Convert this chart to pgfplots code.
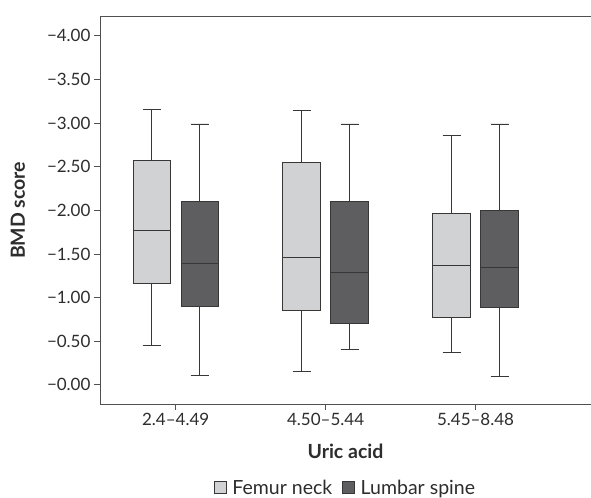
\documentclass[border=0pt]{standalone}
\usepackage{fontspec}
\setmainfont{Lato}
\usepackage{pgfplots}
\pgfplotsset{compat=1.18}
\usepgfplotslibrary{statistics}

\definecolor{femur}{RGB}{209,210,212}
\definecolor{lumbar}{RGB}{94,94,96}
\definecolor{edge}{RGB}{55,55,55}
\definecolor{axisgray}{RGB}{80,80,80}
\definecolor{txt}{RGB}{45,45,45}

\begin{document}
\begin{tikzpicture}[font=\fontsize{16pt}{19pt}\selectfont, text=txt]
\begin{axis}[
  name=ax,
  scale only axis,
  width=491pt, height=387.3pt,
  xmin=0.495, xmax=3.77,
  ymin=-0.22, ymax=4.22,
  axis lines=left,
  axis line style={-, draw=axisgray, line width=0.9pt},
  xtick={1,2,3},
  xticklabels={2.4–4.49,4.50–5.44,5.45–8.48},
  ytick={0,0.5,...,4},
  yticklabel={−\pgfmathprintnumber[fixed,fixed zerofill,precision=2,assume math mode=true]{\tick}},
  tick align=outside,
  major tick length=6pt,
  tick style={draw=axisgray, line width=0.9pt},
  ticklabel style={font=\fontsize{17pt}{20pt}\selectfont, text=txt},
  boxplot/draw direction=y,
  legend style={at={(0.5,-0.216)}, anchor=center, draw=none, fill=none,
    legend columns=2, font=\fontsize{19.5pt}{23pt}\selectfont,
    /tikz/column sep=0pt},
  legend image code/.code={
    \draw[#1, line width=0.9pt] (0pt,-6pt) rectangle (12pt,6pt);
    \path[draw=none, fill=none] (0pt,0pt) -- (16pt,0pt);},
]
\addlegendimage{draw=edge, fill=femur}
\addlegendentry{Femur neck\hspace*{8pt}}
\addlegendimage{draw=edge, fill=lumbar}
\addlegendentry{Lumbar spine}

% 2.4-4.49
\addplot[forget plot, draw=edge, fill=femur, line width=0.9pt,
  boxplot prepared={draw position=0.84, lower whisker=0.45, lower quartile=1.161,
    median=1.769, upper quartile=2.567, upper whisker=3.16,
    box extend=0.25, whisker extend=0.12}] coordinates {};
\addplot[forget plot, draw=edge, fill=lumbar, line width=0.9pt,
  boxplot prepared={draw position=1.16, lower whisker=0.103, lower quartile=0.90,
    median=1.395, upper quartile=2.10, upper whisker=2.99,
    box extend=0.25, whisker extend=0.12}] coordinates {};
% 4.50-5.44
\addplot[forget plot, draw=edge, fill=femur, line width=0.9pt,
  boxplot prepared={draw position=1.84, lower whisker=0.153, lower quartile=0.852,
    median=1.463, upper quartile=2.548, upper whisker=3.15,
    box extend=0.25, whisker extend=0.12}] coordinates {};
\addplot[forget plot, draw=edge, fill=lumbar, line width=0.9pt,
  boxplot prepared={draw position=2.16, lower whisker=0.40, lower quartile=0.70,
    median=1.29, upper quartile=2.10, upper whisker=2.99,
    box extend=0.25, whisker extend=0.12}] coordinates {};
% 5.45-8.48
\addplot[forget plot, draw=edge, fill=femur, line width=0.9pt,
  boxplot prepared={draw position=2.84, lower whisker=0.367, lower quartile=0.77,
    median=1.37, upper quartile=1.97, upper whisker=2.86,
    box extend=0.25, whisker extend=0.12}] coordinates {};
\addplot[forget plot, draw=edge, fill=lumbar, line width=0.9pt,
  boxplot prepared={draw position=3.16, lower whisker=0.095, lower quartile=0.89,
    median=1.35, upper quartile=1.994, upper whisker=2.99,
    box extend=0.25, whisker extend=0.12}] coordinates {};
\end{axis}
\draw[axisgray, line width=0.9pt] (ax.north west) -- (ax.north east);
\node[rotate=90, font=\fontsize{19.5pt}{22pt}\selectfont\bfseries] at ([xshift=-82pt]ax.west) {BMD score};
\node[font=\fontsize{19.5pt}{22pt}\selectfont\bfseries] at ([yshift=-47.7pt]ax.south) {Uric acid};
\pgfresetboundingbox
\path ([xshift=-100pt,yshift=-94pt]ax.south west) rectangle ([yshift=16.7pt]ax.north east);
\end{tikzpicture}
\end{document}
